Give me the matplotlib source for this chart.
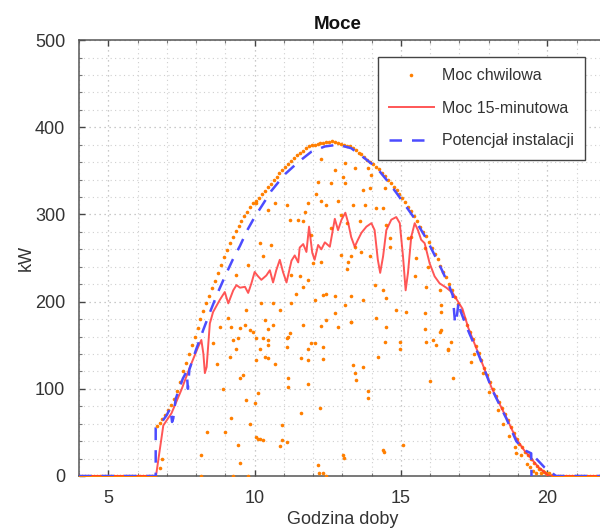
import numpy as np
import matplotlib
matplotlib.use("Agg")
import matplotlib.pyplot as plt
from matplotlib.ticker import MultipleLocator

# ---------------- data ----------------
# upper envelope of instantaneous power (clear-sky like samples)
ENV_X = [6.65, 6.75, 6.85, 6.95, 7.05, 7.15, 7.25, 7.35, 7.45, 7.55,
         7.65, 7.75, 7.85, 7.95, 8.05, 8.15, 8.25, 8.35, 8.45, 8.55,
         8.65, 8.75, 8.85, 8.95, 9.05, 9.15, 9.25, 9.35, 9.45, 9.55,
         9.65, 9.75, 9.85, 9.95, 10.05, 10.15, 10.25, 10.35, 10.45, 10.55,
         10.65, 10.75, 10.85, 10.95, 11.05, 11.15, 11.25, 11.35, 11.45, 11.55,
         11.65, 11.75, 11.85, 11.95, 12.05, 12.15, 12.25, 12.35, 12.45, 12.55,
         12.65, 12.75, 12.85, 12.95, 13.05, 13.15, 13.25, 13.35, 13.45, 13.55,
         13.65, 13.75, 13.85, 13.95, 14.05, 14.15, 14.25, 14.35, 14.45, 14.55,
         14.65, 14.75, 14.85, 14.95, 15.05, 15.15, 15.25, 15.35, 15.45, 15.55,
         15.65, 15.75, 15.85, 15.95, 16.05, 16.15, 16.25, 16.35, 16.45, 16.55,
         16.65, 16.75, 16.85, 16.95, 17.05, 17.15, 17.25, 17.35, 17.45, 17.55,
         17.65, 17.75, 17.85, 17.95, 18.05, 18.15, 18.25, 18.35, 18.45, 18.55,
         18.65, 18.75, 18.85, 18.95, 19.05, 19.15, 19.25, 19.35, 19.45, 19.55,
         19.65, 19.75, 19.85, 19.95, 20.05, 20.15, 20.25]
ENV_Y = [57, 61, 65, 70, 76, 82, 88, 97, 108, 120,
         130, 140, 150, 160, 170, 180, 189, 198, 207, 216,
         224, 233, 242, 251, 259, 267, 274, 281, 287, 293,
         298, 303, 308, 313, 315, 319, 323, 327, 331, 335,
         339, 343, 347, 351, 355, 358, 361, 365, 368, 371,
         373, 376, 378, 380, 380, 381, 382, 382, 383, 383,
         384, 383, 382, 381, 380, 379, 378, 376, 374, 371,
         369, 366, 363, 360, 358, 355, 352, 348, 344, 340,
         336, 332, 328, 324, 319, 314, 309, 304, 298, 292,
         286, 280, 275, 268, 261, 255, 249, 241, 234, 228,
         220, 213, 205, 197, 189, 181, 173, 165, 157, 149,
         141, 133, 124, 116, 108, 100, 92, 85, 78, 71,
         64, 56, 49, 42, 37, 33, 28, 24, 20, 15,
         11, 8, 6, 4, 3, 1, 0]

# night-time zero samples
ZERO_X = [4.0, 4.1, 4.2, 4.3, 4.4, 4.5, 4.6, 4.7, 4.8, 4.9,
          5.0, 5.1, 5.2, 5.3, 5.4, 5.5, 5.6, 5.7, 5.8, 5.9,
          6.0, 6.1, 6.2, 6.3, 6.4, 6.5, 6.6,
          20.35, 20.45, 20.55, 20.65, 20.75, 20.85, 20.95, 21.05, 21.15,
          21.25, 21.35, 21.45, 21.55, 21.65, 21.75, 21.85, 21.95]

# cloud-affected instantaneous samples
SCAT_X = [6.77, 6.82, 8.18, 8.18, 8.36, 8.98, 9.44, 9.5, 10.12, 9.21,
          9.84, 9.72, 8.92, 9.61, 9.5, 8.7, 9.15, 9.38, 9.27, 9.44,
          9.84, 9.95, 8.81, 9.21, 9.1, 9.5, 9.66, 9.72, 9.38, 9.78,
          8.58, 10.0, 9.77, 9.25,
          12.28, 13.08, 12.74, 13.02, 12.17, 12.62, 13.08, 12.11, 12.45, 12.28,
          12.85, 11.83, 11.09, 10.69, 10.46, 10.06, 11.71, 11.2, 11.49, 11.66,
          13.14, 12.62, 12.96, 11.94, 10.18, 10.57, 10.29, 12.96, 12.28, 13.19,
          11.99, 13.14, 11.26, 11.54, 11.83, 11.66, 11.43, 12.34, 12.45, 12.74,
          12.06, 10.23, 10.63, 11.26, 13.08, 10.86, 12.74, 13.3, 10.35, 10.63,
          10.46, 12.45, 11.66, 12.28, 12.85, 11.2, 11.14, 10.06, 10.29, 10.46,
          11.09, 11.94, 12.06, 10.46, 10.18, 11.09, 11.83, 12.34, 10.35, 10.46,
          11.6, 11.83, 12.34, 10.06, 10.69, 11.14, 11.83, 11.14, 10.12, 12.23,
          11.6, 10.92, 10.06, 10.18, 10.29, 10.92, 11.09, 10.86, 13.02, 12.17,
          12.34, 12.2, 12.45,
          13.42, 13.87, 13.99, 14.44, 13.7, 13.93, 13.36, 13.76, 14.16, 14.39,
          13.59, 14.5, 14.61, 15.24, 15.35, 14.61, 13.42, 13.65, 15.81, 13.3,
          15.52, 13.93, 15.92, 15.47, 14.1, 14.39, 15.87, 16.32, 13.7, 13.3,
          14.5, 14.84, 16.38, 15.18, 15.81, 14.16, 13.3, 14.5, 15.81, 16.32,
          14.44, 14.96, 15.87, 16.1, 16.21, 16.6, 14.96, 14.21, 13.7, 13.36,
          13.42, 13.48, 15.98, 13.87, 13.87, 15.07, 14.39, 14.43, 13.05,
          16.38, 16.38, 16.72, 16.6, 17.4, 16.77, 18.94,
          17.5, 17.8, 18.0, 18.3, 18.5, 18.7, 18.9, 19.1, 19.3, 19.4,
          19.5, 19.6, 19.7, 19.8, 19.9, 20.0]
SCAT_Y = [9, 19, 24, 0, 50, 51, 36, 15, 43, 66,
          60, 87, 100, 116, 112, 128, 137, 146, 156, 158,
          167, 165, 171, 171, 181, 170, 173, 190, 230, 242,
          152, 84, 0, 0,
          364, 359, 351, 343, 337, 336, 336, 324, 311, 315,
          315, 313, 311, 313, 305, 313, 303, 294, 294, 292,
          290, 284, 299, 276, 267, 265, 252, 253, 246, 246,
          244, 238, 230, 229, 225, 217, 209, 208, 209, 206,
          202, 198, 198, 198, 196, 190, 187, 177, 179, 173,
          169, 179, 173, 172, 171, 164, 160, 158, 158, 156,
          158, 153, 152, 150, 146, 148, 146, 148, 137, 135,
          135, 133, 134, 133, 129, 112, 106, 102, 95, 78,
          72, 58, 45, 43, 41, 41, 39, 34, 24, 13,
          3, 4, 0,
          353, 353, 345, 330, 328, 330, 311, 311, 307, 307,
          292, 288, 273, 273, 274, 263, 263, 257, 261, 252,
          250, 252, 240, 229, 219, 213, 217, 213, 202, 206,
          204, 190, 196, 188, 187, 181, 177, 171, 169, 165,
          154, 154, 154, 156, 150, 144, 146, 137, 125, 127,
          118, 110, 109, 97, 90, 36, 30, 28, 21,
          188, 167, 154, 146, 131, 112, 26,
          140, 118, 96, 76, 60, 46, 33, 24, 14, 10,
          6, 4, 8, 3, 5, 2]

# 15-minute average power
AVG_X = [4.0, 6.63, 6.88, 6.94, 7.16, 7.5, 7.79, 8.07, 8.18, 8.25,
         8.3, 8.36, 8.41, 8.47, 8.58, 8.81, 8.98, 9.1, 9.27, 9.38,
         9.5, 9.67, 9.78, 9.89, 10.0, 10.12, 10.23, 10.4, 10.52, 10.63,
         10.74, 10.86, 10.97, 11.09, 11.26, 11.37, 11.49, 11.54, 11.66, 11.77,
         11.86, 11.97, 12.05, 12.17, 12.28, 12.4, 12.57, 12.74, 12.85, 12.97,
         13.1, 13.2, 13.3, 13.42, 13.53, 13.65, 13.82, 13.99, 14.1, 14.21,
         14.29, 14.39, 14.5, 14.67, 14.84, 14.96, 15.07, 15.16, 15.24, 15.35,
         15.47, 15.58, 15.69, 15.81, 15.98, 16.15, 16.32, 16.55, 16.77, 16.95,
         17.1, 17.3, 17.7, 18.1, 18.6, 18.95, 19.2, 19.45, 19.7, 19.95,
         20.05, 22.0]
AVG_Y = [0, 0, 58, 61, 72, 99, 125, 148, 156, 140,
         118, 125, 148, 175, 188, 202, 211, 198, 213, 219,
         216, 217, 210, 221, 234, 229, 225, 230, 236, 222,
         236, 248, 234, 222, 247, 253, 245, 262, 266, 257,
         286, 256, 248, 265, 260, 268, 263, 295, 282, 294,
         302, 290, 274, 263, 271, 279, 286, 290, 282, 248,
         233, 252, 282, 294, 297, 290, 252, 213, 233, 274,
         290, 282, 271, 267, 244, 229, 221, 216, 210, 200,
         192, 170, 136, 101, 67, 42, 30, 20, 10, 3,
         0, 0]

# installation potential
POT_X = [4.0, 6.62, 6.62, 6.7, 6.85, 7.0, 7.12, 7.18, 7.22, 7.3,
         7.42, 7.55, 7.68, 7.72, 7.77, 7.85, 8.0, 8.25, 8.5, 8.75,
         9.0, 9.25, 9.5, 9.75, 10.0, 10.25, 10.57, 11.03, 11.49, 11.94,
         12.4, 12.85, 13.3, 13.7, 14.16, 14.5, 14.84, 15.41, 15.87, 16.32,
         16.66, 16.77, 16.85, 16.9, 16.97, 17.05, 17.23, 17.69, 18.13, 18.6,
         18.94, 19.2, 19.45, 19.46, 19.5, 19.62, 19.9, 20.3, 22.0]
POT_Y = [0, 0, 55, 58, 63, 70, 78, 62, 66, 88,
         100, 112, 120, 100, 122, 130, 145, 168, 190, 211,
         230, 248, 264, 282, 297, 310, 327, 346, 360, 372,
         378, 380, 376, 366, 354, 340, 325, 298, 272, 242,
         217, 207, 175, 180, 200, 188, 172, 136, 98, 66,
         40, 30, 26, 0, np.nan, 20, 10, 0, 0]

X_TICKS = [5, 10, 15, 20]
Y_TICKS = [0, 100, 200, 300, 400, 500]

# ---------------- figure ----------------
plt.rcParams['font.family'] = ['Liberation Sans', 'DejaVu Sans']
TXT = '#333333'
fig = plt.figure(figsize=(6.0, 5.29), dpi=100)
ax = fig.add_axes([0.1317, 0.1002, 0.878, 0.824])

orange = '#ff7f00'
ax.plot(ENV_X + ZERO_X, ENV_Y + [0] * len(ZERO_X), ls='none', marker='o',
        ms=2.6, mec='none', mfc=orange, label='Moc chwilowa', zorder=3)
ax.plot(SCAT_X, SCAT_Y, ls='none', marker='o', ms=2.6, mec='none',
        mfc=orange, zorder=3)
ax.plot(AVG_X, AVG_Y, color='#ff3838', alpha=0.85, lw=1.4,
        label='Moc 15-minutowa', zorder=4)
ax.plot(POT_X, POT_Y, color='#4c4cff', lw=1.8, ls=(0, (5, 4)),
        label='Potencjał instalacji', zorder=5)

ax.set_xlim(4, 22)
ax.set_ylim(0, 500)
ax.set_xticks(X_TICKS)
ax.set_yticks(Y_TICKS)
ax.xaxis.set_minor_locator(MultipleLocator(1))
ax.yaxis.set_minor_locator(MultipleLocator(20))
ax.grid(True, which='major', ls=(0, (1, 3)), color='#b8b8b8', lw=0.9)
ax.grid(True, which='minor', ls=(0, (1, 3)), color='#cfcfcf', lw=0.8)
ax.set_axisbelow(True)
ax.tick_params(which='major', direction='in', length=4, width=1,
               color='#444444', labelsize=13, labelcolor=TXT,
               top=True, right=True)
ax.tick_params(axis='y', which='major', pad=10)
ax.tick_params(axis='x', which='major', pad=10)
ax.tick_params(which='minor', direction='in', length=2, width=0.8,
               color='#777777', top=True, right=True)
for s in ax.spines.values():
    s.set_color('#555555')
    s.set_linewidth(1.1)

ax.set_title('Moce', fontsize=13.5, fontweight='bold', color='#111111',
             x=0.491, pad=8)
ax.set_xlabel('Godzina doby', fontsize=13, color=TXT, labelpad=3)
ax.set_ylabel('kW', fontsize=13, color=TXT, labelpad=0)

leg = ax.legend(loc='upper right', bbox_to_anchor=(0.96, 0.961),
                borderaxespad=0, fontsize=11.5, handlelength=2.8,
                handletextpad=0.5, labelspacing=1.1, borderpad=0.7,
                markerscale=1.0, fancybox=False, framealpha=1)
leg.get_frame().set_edgecolor('#444444')
leg.get_frame().set_linewidth(1.0)
for t in leg.get_texts():
    t.set_color(TXT)

fig.savefig('out.png', dpi=100)
